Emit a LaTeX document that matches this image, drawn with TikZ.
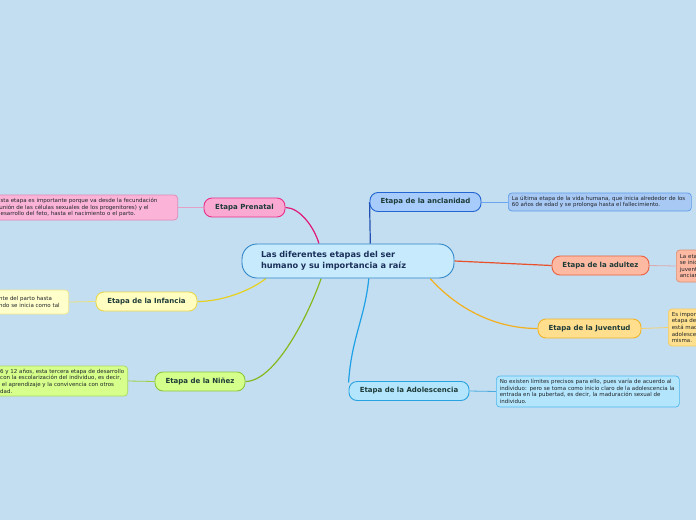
\documentclass[tikz,border=0pt]{standalone}
\usepackage{fontspec}
\newfontfamily\dvs{DejaVu Sans}
\pgfdeclarelayer{bgl}
\pgfdeclarelayer{lines}
\pgfsetlayers{bgl,lines,main}
\definecolor{bgc}{HTML}{C4DEF1}
\definecolor{cenfill}{HTML}{C7EBFC}
\definecolor{cenline}{HTML}{2F86C8}
\definecolor{centext}{HTML}{1B2F5A}
\definecolor{lbltext}{HTML}{1E3B38}
\definecolor{notetext}{HTML}{202428}
\definecolor{prenfill}{HTML}{F9A9D2}\definecolor{prenline}{HTML}{E8308A}\definecolor{prenconn}{HTML}{E0187A}
\definecolor{prennfill}{HTML}{FBB4D8}\definecolor{prennline}{HTML}{E088B8}\definecolor{prenlink}{HTML}{E6A0C8}
\definecolor{inffill}{HTML}{FFFDC0}\definecolor{infline}{HTML}{E8D84A}\definecolor{infconn}{HTML}{E8D020}
\definecolor{infnfill}{HTML}{FFFFCC}\definecolor{infnline}{HTML}{F0E68C}\definecolor{inflink}{HTML}{EDE27A}
\definecolor{ninfill}{HTML}{D3FF8A}\definecolor{ninline}{HTML}{8CC63F}\definecolor{ninconn}{HTML}{86B81E}
\definecolor{ninnfill}{HTML}{D6FF8C}\definecolor{ninnline}{HTML}{A8D860}\definecolor{ninlink}{HTML}{A0D040}
\definecolor{ancfill}{HTML}{A7CBFA}\definecolor{ancline}{HTML}{2366D1}\definecolor{ancconn}{HTML}{2250B0}
\definecolor{ancnfill}{HTML}{A9C9F5}\definecolor{ancnline}{HTML}{5B9BE8}\definecolor{anclink}{HTML}{6AA6F0}
\definecolor{adufill}{HTML}{FDB9A2}\definecolor{aduline}{HTML}{E8603F}\definecolor{aduconn}{HTML}{E8502A}
\definecolor{adunfill}{HTML}{FDB9A2}\definecolor{adunline}{HTML}{E09070}\definecolor{adulink}{HTML}{D8AAB0}
\definecolor{juvfill}{HTML}{FFDF8E}\definecolor{juvline}{HTML}{F0B429}\definecolor{juvconn}{HTML}{F2B01E}
\definecolor{juvnfill}{HTML}{FFE08E}\definecolor{juvnline}{HTML}{F5C860}\definecolor{juvlink}{HTML}{F5D070}
\definecolor{adofill}{HTML}{B3E5FC}\definecolor{adoline}{HTML}{29A3E0}\definecolor{adoconn}{HTML}{1EA0E6}
\definecolor{adonfill}{HTML}{B3E5FC}\definecolor{adonline}{HTML}{4FB8F0}\definecolor{adolink}{HTML}{4AABE0}
\tikzset{
  lbl/.style={draw, line width=0.9pt, rounded corners=8pt, minimum height=19pt, inner sep=0pt,
    font=\dvs\bfseries\fontsize{7}{8}\selectfont, text=lbltext, align=center},
  notebox/.style={draw, line width=0.7pt, rounded corners=3.5pt, inner xsep=3.5pt, inner ysep=2.5pt,
    font=\dvs\fontsize{5.5}{6.6}\selectfont, text=notetext, align=left},
  conn/.style={line width=1.2pt},
  link/.style={line width=0.8pt},
}
\begin{document}
\begin{tikzpicture}[x=1pt,y=-1pt]
\useasboundingbox (0,0) rectangle (696,520);
\clip (0,0) rectangle (696,520);
\begin{pgfonlayer}{bgl}
\fill[bgc] (0,0) rectangle (696,520);
\end{pgfonlayer}

% central
\node[draw=cenline, fill=cenfill, line width=0.9pt, rounded corners=15pt, minimum height=34pt,
  text width=174pt, align=left, inner xsep=19pt, inner ysep=0pt, text=centext,
  font=\dvs\bfseries\fontsize{8.2}{11.5}\selectfont] (cen) at (348,261)
  {Las diferentes etapas del ser\\humano y su importancia a raíz};

% branch nodes
\node[lbl, draw=prenline, fill=prenfill, minimum width=81pt] (pren) at (244.5,207.5) {Etapa Prenatal};
\node[lbl, draw=infline, fill=inffill, minimum width=101pt] (inf) at (146.5,301.5) {Etapa de la Infancia};
\node[lbl, draw=ninline, fill=ninfill, minimum width=90pt] (nin) at (200,381.5) {Etapa de la Niñez};
\node[lbl, draw=ancline, fill=ancfill, minimum width=111pt] (anc) at (425.5,202) {Etapa de la anclanidad};
\node[lbl, draw=aduline, fill=adufill, minimum width=97pt] (adu) at (600.5,265.5) {Etapa de la adultez};
\node[lbl, draw=juvline, fill=juvfill, minimum width=103pt] (juv) at (589.5,328.5) {Etapa de la Juventud};
\node[lbl, draw=adoline, fill=adofill, minimum width=120pt] (ado) at (409,391) {Etapa de la Adolescencia};

% notes
\node[notebox, draw=prennline, fill=prennfill, text width=177pt, minimum height=25pt, anchor=east] (prenn) at (178,207.5)
  {Esta etapa es importante porque va desde la fecundación\\(unión de las células sexuales de los progenitores) y el\\desarrollo del feto, hasta el nacimiento o el parto.};
\node[notebox, draw=infnline, fill=infnfill, text width=66pt, minimum height=24pt, anchor=east] (infn) at (69,302)
  {nte del parto hasta\\ndo se inicia como tal};
\node[notebox, draw=ninnline, fill=ninnfill, minimum height=30pt, anchor=east] (ninn) at (128,381)
  {6 y 12 años, esta tercera etapa de desarrollo\\con la escolarización del individuo, es decir,\\\ el aprendizaje y la convivencia con otros\\dad.};
\node[notebox, draw=ancnline, fill=ancnfill, text width=176pt, minimum height=18pt, anchor=west] (ancn) at (508,202)
  {La última etapa de la vida humana, que inicia alrededor de los\\60 años de edad y se prolonga hasta el fallecimiento.};
\node[notebox, draw=adunline, fill=adunfill, text width=60pt, minimum height=32pt, anchor=west] (adun) at (676,266)
  {La etapa\\se inicia\\juventud\\ancianidad};
\node[notebox, draw=juvnline, fill=juvnfill, text width=60pt, minimum height=37pt, anchor=west] (juvn) at (668,327.5)
  {Es importante\\etapa de\\está madura\\adolescencia\\misma.};
\node[notebox, draw=adonline, fill=adonfill, text width=176pt, minimum height=31pt, anchor=west] (adon) at (496,391.5)
  {No existen límites precisos para ello, pues varía de acuerdo al\\individuo: pero se toma como inicio claro de la adolescencia la\\entrada en la pubertad, es decir, la maduración sexual de\\individuo.};

\begin{pgfonlayer}{lines}
% main connectors
\draw[conn, prenconn] (pren.east) .. controls +(14,0) and +(-5,-17) .. (cen.149);
\draw[conn, infconn] (inf.east) .. controls +(25,0) and +(-15,12) .. (cen.192);
\draw[conn, ninconn] (nin.east) .. controls +(30,0) and +(-12,35) .. (cen.213);
\draw[conn, ancconn] (cen.38) -- (anc.west);
\draw[conn, aduconn] (cen.east) -- (adu.west);
\draw[conn, juvconn] (cen.-12) .. controls +(25,28) and +(-45,0) .. (juv.west);
\draw[conn, adoconn] (cen.-40) .. controls +(-4,40) and +(3,-45) .. (ado.172);
% note links
\draw[link, prenlink] (prenn.east) -- (pren.west);
\draw[link, inflink] (infn.east) -- (inf.west);
\draw[link, ninlink] (ninn.east) -- (nin.west);
\draw[link, anclink] (anc.east) -- (ancn.west);
\draw[link, adulink] (adu.east) -- (adun.west);
\draw[link, juvlink] (juv.east) -- (juvn.west);
\draw[link, adolink] (ado.east) -- (adon.west);
\end{pgfonlayer}
\end{tikzpicture}
\end{document}
